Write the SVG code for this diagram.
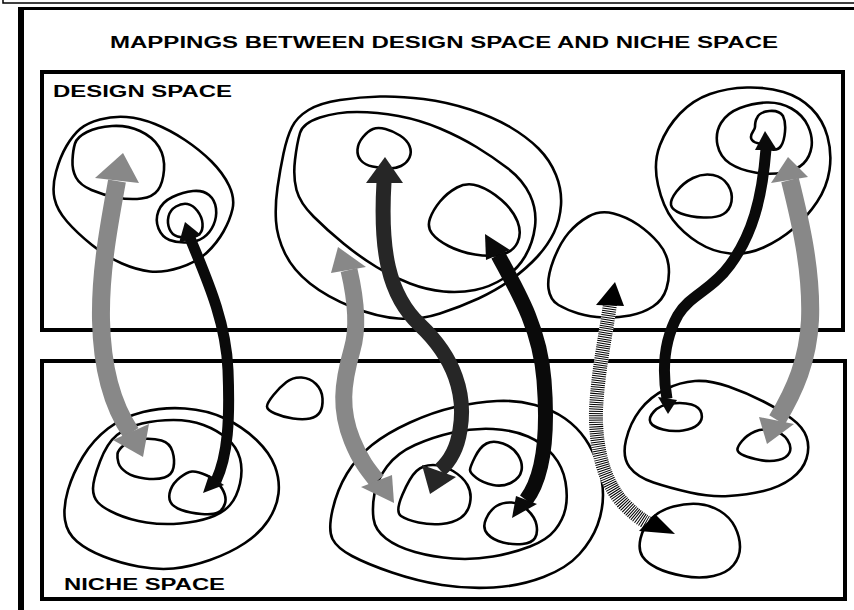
<svg xmlns="http://www.w3.org/2000/svg" width="854" height="610" viewBox="0 0 854 610">
<style>
.blob{fill:none;stroke:#000;stroke-width:2.6;stroke-linejoin:round}
.box{fill:none;stroke:#000;stroke-width:4}
.lbl{font-family:"Liberation Sans",Arial,sans-serif;font-weight:bold;font-size:16px;fill:#000}
.sh{fill:none;stroke-linecap:butt}
.g{stroke:#888}
.gh{fill:#888}
.d{stroke:#262626}
.dh{fill:#262626}
.k{stroke:#0a0a0a}
.kh{fill:#0a0a0a}
</style>
<rect x="0" y="0" width="854" height="610" fill="#fff"/>
<g id="frame">
<rect x="3" y="-10" width="860" height="13" fill="none" stroke="#000" stroke-width="1.5"/>
<rect x="18" y="7" width="840" height="3" fill="#000"/>
<rect x="18" y="7" width="6" height="610" fill="#000"/>
</g>
<text class="lbl" x="110" y="48" textLength="668" lengthAdjust="spacingAndGlyphs">MAPPINGS BETWEEN DESIGN SPACE AND NICHE SPACE</text>
<g id="design-space">
<rect class="box" x="42" y="72" width="801" height="258"/>
<text class="lbl" x="53" y="97" textLength="179" lengthAdjust="spacingAndGlyphs">DESIGN SPACE</text>
</g>
<g id="niche-space">
<rect class="box" x="42" y="361" width="803" height="238"/>
<text class="lbl" x="64" y="590" textLength="161" lengthAdjust="spacingAndGlyphs">NICHE SPACE</text>
</g>
<g id="design-cluster-a">
<path class="blob" d="M80,129 Q87,123 100,119.5 Q113,116 126.5,117 Q140,118 155,124 Q170,130 185,140 Q200,150 211.5,161.5 Q223,173 229,185.5 Q235,198 232.5,209 Q230,220 223.5,231.5 Q217,243 207,252.5 Q197,262 180,267.5 Q163,273 150,271.5 Q137,270 122,263.5 Q107,257 92,245 Q77,233 67,221.5 Q57,210 54.5,198.5 Q52,187 56,172 Q60,157 66.5,146 Q73,135 80,129 Z"/>
<path class="blob" d="M75,143.5 Q77,137 87,132 Q97,127 112,126 Q127,125 140,131 Q153,137 159,147 Q165,157 164,170 Q163,183 158,190 Q153,197 141.5,198.5 Q130,200 116.5,197.5 Q103,195 91.5,190 Q80,185 76,177.5 Q72,170 72.5,160 Q73,150 75,143.5 Z"/>
<path class="blob" d="M158.5,211 Q162,202 172.5,197 Q183,192 193,191 Q203,190 209,195 Q215,200 216,208.5 Q217,217 213.5,225 Q210,233 203.5,237.5 Q197,242 187,242.5 Q177,243 169.5,240 Q162,237 158.5,228.5 Q155,220 158.5,211 Z"/>
<path class="blob" d="M168.5,216.5 Q170,210 176,206.5 Q182,203 187.5,204 Q193,205 197.5,211 Q202,217 202.5,223.5 Q203,230 200,233.5 Q197,237 190,237.5 Q183,238 177.5,236.5 Q172,235 169.5,229 Q167,223 168.5,216.5 Z"/>
</g>
<g id="design-cluster-b">
<path class="blob" d="M292,127 Q297,117 308.5,110 Q320,103 340,100 Q360,97 380,96.5 Q400,96 423.5,99 Q447,102 470,109.5 Q493,117 510,127 Q527,137 538.5,148.5 Q550,160 556,175 Q562,190 561,205 Q560,220 554,232.5 Q548,245 537.5,256.5 Q527,268 512,279 Q497,290 478.5,298.5 Q460,307 440,313.5 Q420,320 398.5,318.5 Q377,317 352,307 Q327,297 310,283.5 Q293,270 285,253.5 Q277,237 276,221 Q275,205 277.5,187.5 Q280,170 283.5,153.5 Q287,137 292,127 Z"/>
<path class="blob" d="M300,133 Q303,123 320,117.5 Q337,112 357,112 Q377,112 398.5,116 Q420,120 440,128.5 Q460,137 476.5,147 Q493,157 508,168.5 Q523,180 530,195 Q537,210 535,226.5 Q533,243 525,256.5 Q517,270 503.5,278.5 Q490,287 475,290 Q460,293 443.5,291.5 Q427,290 410,283.5 Q393,277 376.5,267 Q360,257 343.5,243.5 Q327,230 313.5,216.5 Q300,203 296.5,190 Q293,177 295,160 Q297,143 300,133 Z"/>
<path class="blob" d="M357.5,149.5 Q358,143 363,137 Q368,131 373,129 Q378,127 385.5,129 Q393,131 400,135.5 Q407,140 409.5,146 Q412,152 409.5,157.5 Q407,163 401,166 Q395,169 387.5,168.5 Q380,168 372.5,166.5 Q365,165 361,160.5 Q357,156 357.5,149.5 Z"/>
<path class="blob" d="M430,218.5 Q433,210 440,201.5 Q447,193 457,187.5 Q467,182 478.5,186 Q490,190 501.5,200 Q513,210 517.5,221.5 Q522,233 517.5,242.5 Q513,252 501.5,254.5 Q490,257 475,254.5 Q460,252 448.5,246 Q437,240 432,233.5 Q427,227 430,218.5 Z"/>
</g>
<g id="design-blob-c">
<path class="blob" d="M548.5,288.5 Q547,277 553.5,260 Q560,243 568.5,233 Q577,223 588.5,216.5 Q600,210 613.5,213.5 Q627,217 638.5,225 Q650,233 658.5,243 Q667,253 668.5,265 Q670,277 666.5,288.5 Q663,300 653,306.5 Q643,313 630,315.5 Q617,318 603.5,317.5 Q590,317 578.5,313.5 Q567,310 558.5,305 Q550,300 548.5,288.5 Z"/>
</g>
<g id="design-cluster-d">
<path class="blob" d="M658,185 Q653,163 660,145 Q667,127 680,113.5 Q693,100 710,94 Q727,88 747,87.5 Q767,87 783.5,92 Q800,97 811.5,108.5 Q823,120 827.5,136.5 Q832,153 829.5,170 Q827,187 817,202 Q807,217 793.5,228.5 Q780,240 763.5,247.5 Q747,255 730,253.5 Q713,252 698,242.5 Q683,233 673,220 Q663,207 658,185 Z"/>
<path class="blob" d="M717.5,145 Q715,133 721,123 Q727,113 740,108 Q753,103 766.5,102.5 Q780,102 791.5,108.5 Q803,115 808,126 Q813,137 811.5,147 Q810,157 803.5,163.5 Q797,170 783.5,172.5 Q770,175 755,172.5 Q740,170 730,163.5 Q720,157 717.5,145 Z"/>
<path class="blob" d="M757,118 C760,110 778,108 783,116 C787,124 785,140 781,146 C778,151 770,151 765,146 C761,142 756,145 752,140 C748,135 755,131 755,127 C755,123 755,121 757,118 Z"/>
<path class="blob" d="M671,205 Q670,200 676.5,191.5 Q683,183 693,178 Q703,173 713,175 Q723,177 728,185 Q733,193 731.5,201.5 Q730,210 723.5,214 Q717,218 703.5,217.5 Q690,217 681,213.5 Q672,210 671,205 Z"/>
</g>
<g id="niche-cluster-e">
<path class="blob" d="M65,520 Q63,507 68,490 Q73,473 83,456.5 Q93,440 108,428.5 Q123,417 143,412 Q163,407 185,408.5 Q207,410 225,418.5 Q243,427 256.5,440 Q270,453 275,466.5 Q280,480 278.5,493.5 Q277,507 268.5,520 Q260,533 245,543 Q230,553 210,560 Q190,567 173.5,568.5 Q157,570 138.5,566.5 Q120,563 103.5,556.5 Q87,550 77,541.5 Q67,533 65,520 Z"/>
<path class="blob" d="M93,488.5 Q93,480 100,461.5 Q107,443 117,435 Q127,427 142,423.5 Q157,420 173.5,420 Q190,420 203.5,425 Q217,430 227,438.5 Q237,447 240,458.5 Q243,470 240,483.5 Q237,497 230,505 Q223,513 210,517.5 Q197,522 180,523.5 Q163,525 146.5,522.5 Q130,520 116.5,514 Q103,508 98,502.5 Q93,497 93,488.5 Z"/>
<path class="blob" d="M117.5,454 Q118,450 124,445 Q130,440 141.5,439 Q153,438 161.5,440.5 Q170,443 172.5,451.5 Q175,460 173.5,467.5 Q172,475 164.5,477.5 Q157,480 145,478.5 Q133,477 126.5,472.5 Q120,468 118.5,463 Q117,458 117.5,454 Z"/>
<path class="blob" d="M170.5,490 Q173,483 180,477.5 Q187,472 192,471.5 Q197,471 207,475.5 Q217,480 222,488.5 Q227,497 225,503.5 Q223,510 218,512.5 Q213,515 201.5,514 Q190,513 181.5,510 Q173,507 170.5,502 Q168,497 170.5,490 Z"/>
</g>
<g id="niche-blob-f">
<path class="blob" d="M267,406.5 Q267,403 273.5,395 Q280,387 286.5,382 Q293,377 301.5,377.5 Q310,378 316,384 Q322,390 322.5,398.5 Q323,407 320,412 Q317,417 310,418.5 Q303,420 293,418.5 Q283,417 275,413.5 Q267,410 267,406.5 Z"/>
</g>
<g id="niche-cluster-g">
<path class="blob" d="M332.5,539 Q328,530 332.5,510 Q337,490 347,473.5 Q357,457 372,445 Q387,433 410,422.5 Q433,412 455,407 Q477,402 497,401 Q517,400 535,405 Q553,410 565,418.5 Q577,427 585,438.5 Q593,450 598,465 Q603,480 603,495 Q603,510 597.5,525 Q592,540 579.5,554 Q567,568 543.5,577 Q520,586 493.5,587.5 Q467,589 442,585 Q417,581 392,572.5 Q367,564 352,556 Q337,548 332.5,539 Z"/>
<path class="blob" d="M373.5,518.5 Q372,507 374.5,493.5 Q377,480 387,466.5 Q397,453 415,445 Q433,437 453,432.5 Q473,428 493,429 Q513,430 528,436.5 Q543,443 553,455 Q563,467 565.5,482 Q568,497 565.5,508.5 Q563,520 555,530 Q547,540 530,546.5 Q513,553 493,556.5 Q473,560 453,558.5 Q433,557 415,552 Q397,547 386,538.5 Q375,530 373.5,518.5 Z"/>
<path class="blob" d="M401,516 Q395,512 402.5,494.5 Q410,477 416.5,471 Q423,465 433,465 Q443,465 453,471 Q463,477 467.5,485 Q472,493 470,503 Q468,513 460.5,518 Q453,523 441.5,524 Q430,525 418.5,522.5 Q407,520 401,516 Z"/>
<path class="blob" d="M470,470 Q470,467 475,457 Q480,447 486.5,443.5 Q493,440 503,443.5 Q513,447 518,455 Q523,463 521.5,470.5 Q520,478 511.5,482.5 Q503,487 493,485 Q483,483 476.5,478 Q470,473 470,470 Z"/>
<path class="blob" d="M487.5,534 Q482,528 486,519 Q490,510 496.5,506 Q503,502 511.5,502.5 Q520,503 527.5,510 Q535,517 536.5,525 Q538,533 535,538 Q532,543 522.5,544 Q513,545 503,542.5 Q493,540 487.5,534 Z"/>
</g>
<g id="niche-cluster-h">
<path class="blob" d="M629.5,467 Q622,457 626,440 Q630,423 640,410 Q650,397 665,389.5 Q680,382 695,381 Q710,380 728.5,386.5 Q747,393 763.5,401.5 Q780,410 791.5,418.5 Q803,427 806.5,437 Q810,447 806.5,458.5 Q803,470 791.5,478.5 Q780,487 763.5,491 Q747,495 728.5,496 Q710,497 690,492.5 Q670,488 653.5,482.5 Q637,477 629.5,467 Z"/>
<path class="blob" d="M650.5,422.5 Q648,418 654,411.5 Q660,405 671.5,403.5 Q683,402 691.5,404.5 Q700,407 701.5,413.5 Q703,420 698,424.5 Q693,429 683,430.5 Q673,432 663,429.5 Q653,427 650.5,422.5 Z"/>
<path class="blob" d="M737.5,450 Q737,447 742,441 Q747,435 755,431.5 Q763,428 773,430.5 Q783,433 787.5,440 Q792,447 789.5,452.5 Q787,458 778.5,460 Q770,462 760,460 Q750,458 744,455.5 Q738,453 737.5,450 Z"/>
</g>
<g id="niche-blob-i">
<path class="blob" d="M642.5,556.5 Q638,550 640.5,538.5 Q643,527 651.5,518.5 Q660,510 673.5,506.5 Q687,503 698.5,504 Q710,505 720,511 Q730,517 735,527 Q740,537 740,547 Q740,557 733.5,565 Q727,573 713.5,576 Q700,579 683.5,576 Q667,573 657,568 Q647,563 642.5,556.5 Z"/>
</g>
<g id="connectors">
<g id="gray-arrow-1">
<path class="sh g" stroke-width="18" d="M117,181 C110,220 100,270 101,320 C102,370 112,405 131,433"/>
<polygon class="gh" points="123,153 95,178 139,183"/>
<polygon class="gh" points="113,440 149,424 143,457"/>
</g>
<g id="black-arrow-1">
<path class="sh k" stroke-width="11" d="M190,238 C205,275 226,320 228,370 C230,420 228,455 216,481"/>
<polygon class="kh" points="185,222 179,243 201,235"/>
<polygon class="kh" points="203,493 209,475 224,485"/>
</g>
<g id="gray-arrow-2">
<path class="sh g" stroke-width="17" d="M349,270 C356,300 358,330 352,350 C342,385 340,410 352,440 C360,460 368,470 377,481"/>
<polygon class="gh" points="338,247 331,273 366,267"/>
<polygon class="gh" points="361,487 392,475 394,503"/>
</g>
<g id="dark-arrow">
<path class="sh d" stroke-width="15" d="M384,182 C380,250 388,295 420,325 C455,358 466,395 460,430 C457,450 449,462 440,470"/>
<polygon class="dh" points="385,157 366,183 403,183"/>
<polygon class="dh" points="422,465 456,477 430,494"/>
</g>
<g id="black-arrow-2">
<path class="sh k" stroke-width="15" d="M498,255 C520,295 540,330 544,380 C548,430 545,475 526,500"/>
<polygon class="kh" points="485,234 486,260 510,250"/>
<polygon class="kh" points="512,518 516,496 537,504"/>
</g>
<g id="striped-arrow">
<path class="sh" stroke="#fff" stroke-width="14" d="M610,304 C605,340 598,370 596,410 C595,450 605,485 625,505 C633,513 640,519 648,523"/>
<path class="sh" stroke="#000" stroke-width="14" stroke-dasharray="1 1.2" d="M610,304 C605,340 598,370 596,410 C595,450 605,485 625,505 C633,513 640,519 648,523"/>
<polygon fill="#000" points="615,282 596,305 624,306"/>
<polygon fill="#000" points="639,531 655,514 675,534"/>
</g>
<g id="black-arrow-3">
<path class="sh k" stroke-width="11" d="M766,149 C762,200 752,235 730,265 C712,290 690,295 678,315 C664,340 662,370 667,399"/>
<polygon class="kh" points="765,131 755,150 777,150"/>
<polygon class="kh" points="658,397 677,400 668,414"/>
</g>
<g id="gray-arrow-3">
<path class="sh g" stroke-width="18" d="M790,180 C800,220 812,270 810,320 C808,360 795,390 777,420"/>
<polygon class="gh" points="788,157 771,183 808,177"/>
<polygon class="gh" points="759,417 794,424 767,444"/>
</g>
</g>
</svg>
